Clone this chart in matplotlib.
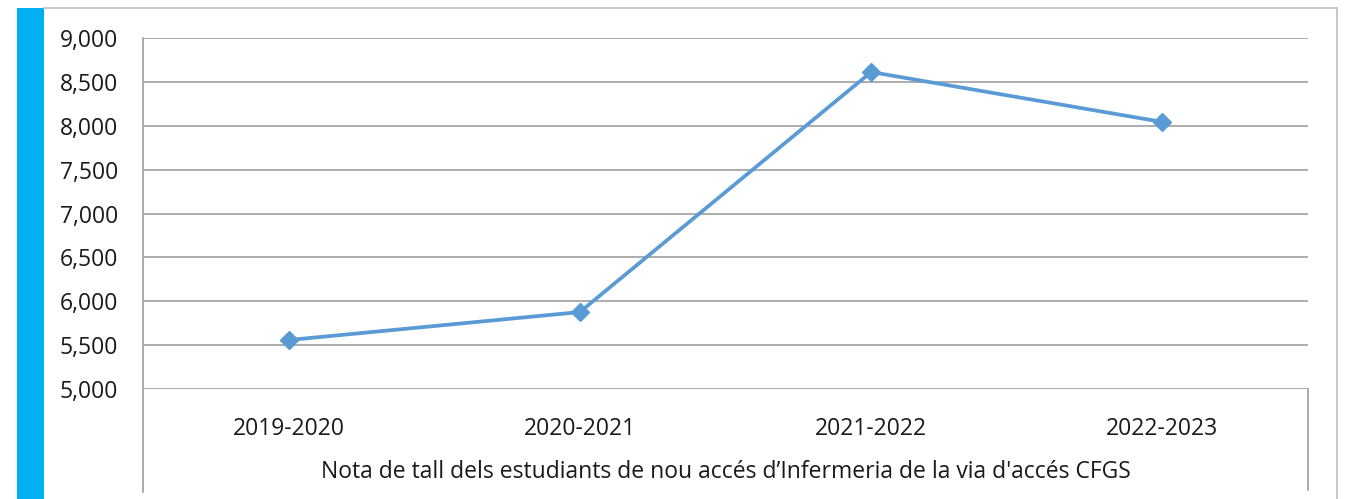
import matplotlib
matplotlib.use('Agg')
import matplotlib.pyplot as plt
from matplotlib.lines import Line2D
from matplotlib.patches import Rectangle

# data
cursos = ['2019-2020', '2020-2021', '2021-2022', '2022-2023']
nota_tall = [5.558, 5.877, 8.612, 8.043]
y_ticks = [5.0, 5.5, 6.0, 6.5, 7.0, 7.5, 8.0, 8.5, 9.0]
y_labels = ['5,000', '5,500', '6,000', '6,500', '7,000', '7,500', '8,000', '8,500', '9,000']
titol = "Nota de tall dels estudiants de nou accés d\u2019Infermeria de la via d'accés CFGS"

plt.rcParams['font.family'] = ['Open Sans', 'DejaVu Sans']

W, H = 1346, 499
fig = plt.figure(figsize=(W / 100, H / 100), dpi=100)


def fx(px):
    return px / W


def fy(py):
    return 1 - py / H


# left blue band and outer frame
fig.patches.append(Rectangle((fx(17), 0), fx(27), fy(8), transform=fig.transFigure,
                             facecolor='#00B0F0', edgecolor='none', zorder=0))
grey = '#BFBFBF'
fig.add_artist(Line2D([fx(44), fx(1337)], [fy(8), fy(8)], color=grey, lw=1.2))
fig.add_artist(Line2D([fx(1337), fx(1337)], [fy(8), 0], color=grey, lw=1.2))

ax = fig.add_axes([fx(143), fy(389), fx(1308) - fx(143), fy(38) - fy(389)])
x = list(range(len(cursos)))
ax.plot(x, nota_tall, color='#5B9BD5', lw=2.7, marker='D', markersize=9,
        zorder=3, clip_on=False)

ax.set_xlim(-0.5, len(cursos) - 0.5)
ax.set_ylim(5.0, 9.0)
ax.set_yticks(y_ticks)
ax.set_yticklabels(y_labels, fontsize=16.5, color='#1a1a1a')
ax.set_xticks(x)
ax.set_xticklabels(cursos, fontsize=16.5, color='#1a1a1a')
ax.tick_params(axis='y', length=0, pad=18)
ax.tick_params(axis='x', length=0, pad=20)
ax.grid(axis='y', color='#A6A6A6', lw=1.3)
ax.set_axisbelow(True)
for s in ['top', 'right', 'bottom']:
    ax.spines[s].set_visible(False)
ax.spines['left'].set_color('#A6A6A6')
ax.spines['left'].set_linewidth(1.3)

# category box lines below the plot area
fig.add_artist(Line2D([fx(143), fx(143)], [fy(389), fy(492)], color='#A6A6A6', lw=1.3))
fig.add_artist(Line2D([fx(1308), fx(1308)], [fy(389), fy(490)], color='#A6A6A6', lw=1.3))

fig.text(fx(726), fy(472), titol, ha='center', va='center', fontsize=16.5, color='#1a1a1a')

fig.savefig('out.png', dpi=100, facecolor='white')
